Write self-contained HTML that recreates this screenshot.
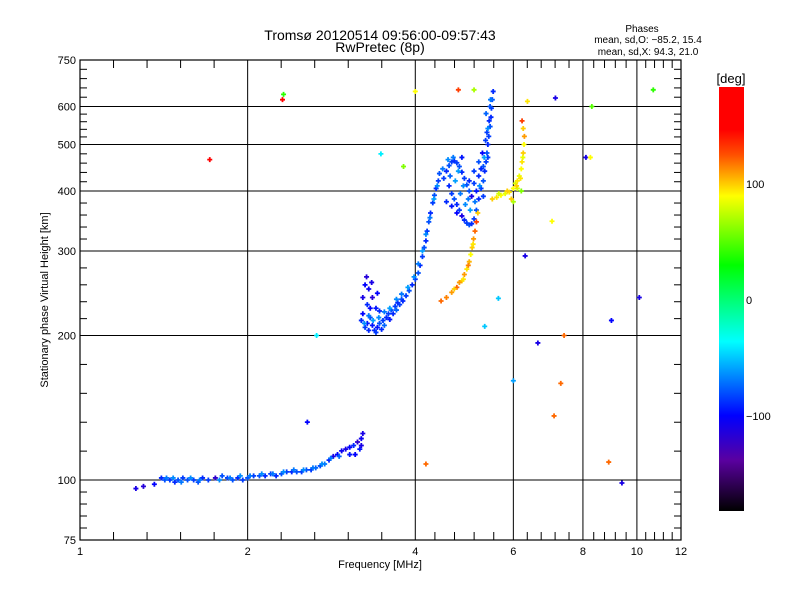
<!DOCTYPE html>
<html><head><meta charset="utf-8">
<style>
html,body{margin:0;padding:0;background:#fff;}
svg{display:block;font-family:"Liberation Sans",sans-serif;}
</style></head>
<body>
<svg id="chart" width="800" height="600" viewBox="0 0 800 600">
  <rect x="0" y="0" width="800" height="600" fill="#fff"/>
  <text x="380" y="40" font-size="14" text-anchor="middle">Tromsø 20120514 09:56:00-09:57:43</text>
  <text x="380" y="52" font-size="14" text-anchor="middle">RwPretec (8p)</text>
  <text x="642" y="32" font-size="10" text-anchor="middle">Phases</text>
  <text x="648" y="43" font-size="10" text-anchor="middle">mean, sd,O: −85.2, 15.4</text>
  <text x="648" y="55" font-size="10" text-anchor="middle">mean, sd,X:  94.3, 21.0</text>
  <g id="grid"></g>
  <g id="marks"></g>
  <g id="axes"></g>
  <text x="380" y="568" font-size="11" text-anchor="middle">Frequency [MHz]</text>
  <text transform="translate(48,300) rotate(-90)" font-size="11" text-anchor="middle">Stationary phase Virtual Height [km]</text>
  <defs>
    <linearGradient id="cbar" x1="0" y1="0" x2="0" y2="1">
      <stop offset="0" stop-color="#ff0000"/>
      <stop offset="0.1" stop-color="#ff0000"/>
      <stop offset="0.16" stop-color="#ff5000"/>
      <stop offset="0.257" stop-color="#ffff00"/>
      <stop offset="0.42" stop-color="#00ff00"/>
      <stop offset="0.6" stop-color="#00ffff"/>
      <stop offset="0.775" stop-color="#0000ff"/>
      <stop offset="0.88" stop-color="#5a00a0"/>
      <stop offset="1" stop-color="#000000"/>
    </linearGradient>
  </defs>
  <rect x="719" y="87" width="25" height="424" fill="url(#cbar)"/>
  <text x="731" y="83" font-size="13" text-anchor="middle">[deg]</text>
  <g id="cbticks"></g>
</svg>
<script>
// ---- data ----
const xTickValues = [1, 2, 4, 6, 8, 10, 12];
const yTickValues = [75, 100, 200, 300, 400, 500, 600, 750];
const xGridValues = [2, 4, 6, 8, 10];
const yGridValues = [100, 200, 300, 400, 500, 600];
const colorbarTicks = [100, 0, -100];
// [frequency MHz, height km, phase deg]
const eLayer = [[1.26,96,-110],[1.30,97,-115],[1.36,98,-100],[1.40,101,-90],[1.42,100,-80],[1.45,100,-85],[1.48,99,-90],[1.50,100,-80],[1.53,101,-85],[1.56,100,-80],[1.60,100,-85],[1.63,99,-80],[1.66,101,-90],[1.70,100,-85],[1.75,101,-120],[1.80,102,-80],[1.84,101,-85],[1.88,100,-80],[1.92,101,-90],[1.96,100,-85],[2.00,101,-80],[2.05,102,-85],[2.10,102,-80],[2.15,102,-90],[2.20,103,-85],[2.25,102,-90],[2.30,103,-80],[2.35,104,-85],[2.40,104,-90],[2.45,104,-80],[2.50,104,-85],[2.55,105,-80],[2.60,105,-85],[2.65,106,-75],[2.70,107,-80],[2.75,108,-70],[2.80,110,-90],[2.85,112,-110],[2.90,113,-100],[2.95,115,-105],[3.00,116,-110],[3.05,117,-100],[3.10,118,-90],[3.15,120,-120],[3.20,122,-105],[3.20,118,-110],[3.12,113,-100],[3.05,113,-95],
 [1.43,101,-70],[1.47,101,-65],[1.52,99,-70],[1.58,101,-65],[1.64,100,-70],[1.78,100,-65],[1.86,101,-70],[1.94,102,-65],[2.02,102,-70],[2.12,103,-65],[2.22,103,-70],[2.32,104,-65],[2.42,105,-70],[2.52,105,-65],[2.62,106,-70],[2.72,108,-65],[2.82,111,-70],[2.92,112,-75],[3.18,116,-95],[3.22,125,-110]];
const fOrdinary = [[3.20,215,-90],[3.22,222,-100],[3.25,208,-85],[3.28,212,-95],[3.30,205,-90],[3.32,218,-80],[3.35,210,-95],[3.38,205,-90],[3.40,203,-85],[3.42,208,-95],[3.45,212,-80],[3.48,206,-90],[3.50,215,-85],[3.52,210,-75],[3.55,218,-90],[3.58,222,-85],[3.60,216,-95],[3.62,226,-80],[3.65,222,-90],[3.68,230,-85],[3.70,226,-75],[3.72,234,-90],[3.75,232,-85],[3.78,238,-80],[3.80,236,-90],[3.85,242,-85],[3.90,248,-80],[3.95,255,-90],[4.00,262,-85],[4.05,270,-80],[4.08,280,-90],[4.12,292,-85],[4.15,305,-80],[4.18,315,-90],[4.20,330,-85],[4.23,345,-80],[4.26,360,-90],[4.30,378,-85],[4.33,392,-80],[4.36,405,-90],[4.40,420,-85],[4.42,435,-80],[3.22,240,-110],[3.25,255,-100],[3.30,250,-105],[3.28,232,-90],[3.35,240,-115],[3.40,228,-95],[3.32,228,-100],[3.45,225,-90],[4.50,425,-85],[4.55,440,-90],[4.60,452,-80],[4.65,460,-85],[4.70,462,-90],[4.75,458,-85],[4.80,450,-80],[4.85,438,-90],[4.90,425,-85],[4.95,412,-80],[4.60,410,-90],[4.65,395,-85],[4.70,385,-80],[4.75,375,-90],[4.80,365,-85],[4.85,355,-110],[4.90,348,-90],[4.95,343,-85],[5.00,340,-80],[5.05,342,-90],[5.10,350,-85],[5.15,365,-80],[5.20,385,-90],[5.25,405,-85],[5.30,420,-80],[5.33,440,-90],[5.36,460,-85],[5.38,480,-80],[5.40,500,-90],[5.42,520,-85],[5.45,545,-80],[5.47,570,-90],[5.48,595,-85],[5.50,620,-80],[5.52,645,-90],[5.40,470,-85],[5.30,450,-80],[5.20,430,-90],[5.10,415,-85],[5.00,400,-80],[5.25,445,-90],[5.35,510,-85],[5.45,600,-80],[5.43,560,-90],[5.38,530,-85],[5.00,420,-90],[5.10,440,-85],[5.20,460,-80]];
const fScatter = [[3.24,212,-65],[3.30,220,-70],[3.36,215,-60],[3.44,218,-65],[3.52,224,-70],[3.60,228,-60],[3.70,238,-65],[3.78,244,-70],[3.88,252,-60],[3.98,265,-65],[4.05,282,-70],[4.12,300,-60],[4.18,325,-65],[4.25,352,-70],[4.32,385,-60],[4.38,410,-65],[3.27,265,-115],[3.34,258,-110],[3.42,245,-100],[4.48,445,-70],[4.58,465,-65],[4.68,470,-70],[4.78,440,-60],[4.88,410,-65],[4.98,385,-70],[4.62,430,-75],[4.72,420,-60],[4.82,395,-70],[4.92,375,-65],[5.02,365,-60],[5.12,380,-70],[5.22,410,-65],[5.32,470,-60],[5.40,540,-65],[5.46,620,-70],[4.55,380,-90],[4.65,372,-95],[4.75,360,-100],[5.05,390,-110],[5.15,400,-95],[5.28,480,-100],[5.36,580,-75],[5.30,390,-85],[4.85,470,-95]];
const fExtraordinary = [[4.45,236,120],[4.55,240,115],[4.65,246,110],[4.75,252,120],[4.85,260,100],[4.90,268,110],[4.95,275,95],[5.00,285,105],[5.03,295,90],[5.06,305,100],[5.09,318,110],[5.12,330,120],[5.15,345,130],[5.18,360,100],[5.50,385,100],[5.60,388,95],[5.70,392,90],[5.80,395,85],[5.90,398,95],[6.00,405,90],[6.05,415,80],[6.10,420,95],[6.15,430,85],[6.20,445,90],[6.22,460,95],[6.25,480,100],[6.27,500,90],[6.28,520,110],[6.25,540,100],[6.22,560,130],[6.10,405,80],[6.20,400,60],[6.00,380,70],[5.95,385,100],
 [4.70,250,100],[4.80,258,110],[4.88,262,95],[4.98,280,115],[5.08,310,95],[5.65,395,80],[5.85,400,100],[6.08,410,100],[6.18,425,95],[6.24,470,85]];
const outliers = [[1.71,465,165],[2.32,636,40],[2.31,620,160],[4.00,645,90],[4.78,650,130],[5.10,650,70],[7.14,625,-110],[6.36,615,95],[8.30,600,50],[10.7,650,40],[3.47,478,-40],[3.81,450,60],[8.10,470,-110],[8.25,470,90],[7.04,346,90],[6.30,293,-110],[5.64,239,-50],[5.33,209,-50],[9.00,215,-100],[10.1,240,-110],[7.40,200,120],[6.64,193,-110],[6.00,161,-60],[7.30,159,120],[7.10,136,120],[8.90,109,120],[9.40,98.6,-110],[2.56,132,-100],[4.18,108,120],[2.66,200,-40]];

// ---- scales ----
const X0 = 80, X1 = 681, Y0 = 60, Y1 = 540;
function xs(f){ return X0 + (X1-X0) * Math.log(f) / Math.log(12); }
function ys(h){ return Y1 - (Y1-Y0) * Math.log(h/75) / Math.log(10); }
const NS = "http://www.w3.org/2000/svg";
function mk(tag, attrs, parent){ const e = document.createElementNS(NS, tag); for (const k in attrs) e.setAttribute(k, attrs[k]); parent.appendChild(e); return e; }
function phaseColor(p){
  const stops = [[-180,0,0,0],[-138,90,0,160],[-100,0,0,255],[-36,0,255,255],[30,0,255,0],[90,255,255,0],[125,255,80,0],[146,255,0,0],[180,255,0,0]];
  p = Math.max(-180, Math.min(180, p));
  for (let i=0;i<stops.length-1;i++){ const a=stops[i], b=stops[i+1];
    if (p>=a[0] && p<=b[0]) { const t=(p-a[0])/(b[0]-a[0]);
      return `rgb(${Math.round(a[1]+(b[1]-a[1])*t)},${Math.round(a[2]+(b[2]-a[2])*t)},${Math.round(a[3]+(b[3]-a[3])*t)})`; } }
  return "#000";
}

const grid = document.getElementById('grid');
xGridValues.forEach(v => {
  const l = mk('line', {x1: xs(v), x2: xs(v), y1: Y0, y2: Y1, stroke: '#000', 'stroke-width': 1}, grid);
  
  
});
yGridValues.forEach(v => {
  const l = mk('line', {x1: X0, x2: X1, y1: ys(v), y2: ys(v), stroke: '#000', 'stroke-width': 1}, grid);
  
  
});

const marks = document.getElementById('marks');
function drawSeries(arr, name){
  arr.forEach(d => {
    const x = xs(d[0]), y = ys(d[1]), c = phaseColor(d[2]);
    const p = mk('path', {d: `M${x-2.5},${y}H${x+2.5}M${x},${y-2.5}V${y+2.5}`, stroke: c, 'stroke-width': 1.8, fill: 'none'}, marks);
    
    
  });
}
drawSeries(eLayer, 'e-layer-point');
drawSeries(fOrdinary, 'f-ordinary-point');
drawSeries(fScatter, 'f-scatter-point');
drawSeries(fExtraordinary, 'f-extraordinary-point');
drawSeries(outliers, 'outlier-point');

const axes = document.getElementById('axes');
const frame = mk('rect', {x: X0, y: Y0, width: X1-X0, height: Y1-Y0, fill: 'none', stroke: '#000', 'stroke-width': 1.2}, axes);


for (let i=0;i<xTickValues.length;i++){
  const x = xs(xTickValues[i]);
  const t = mk('text', {x: x, y: 555, 'font-size': 11, 'text-anchor': 'middle'}, axes);
  t.textContent = xTickValues[i];
  
  
  if (i < xTickValues.length-1){
    const xn = xs(xTickValues[i+1]);
    for (let k=1;k<5;k++){ const xx = x + (xn-x)*k/5;
      mk('line', {x1: xx, x2: xx, y1: Y1, y2: Y1-8, stroke: '#000'}, axes);
      mk('line', {x1: xx, x2: xx, y1: Y0, y2: Y0+8, stroke: '#000'}, axes); }
  }
}
for (let i=0;i<yTickValues.length;i++){
  const y = ys(yTickValues[i]);
  const t = mk('text', {x: 76, y: y+4, 'font-size': 11, 'text-anchor': 'end'}, axes);
  t.textContent = yTickValues[i];
  
  
  if (i < yTickValues.length-1){
    const yn = ys(yTickValues[i+1]);
    for (let k=1;k<5;k++){ const yy = y + (yn-y)*k/5;
      mk('line', {x1: X0, x2: X0+7, y1: yy, y2: yy, stroke: '#000'}, axes);
      mk('line', {x1: X1, x2: X1-7, y1: yy, y2: yy, stroke: '#000'}, axes); }
  }
}
const cb = document.getElementById('cbticks');
colorbarTicks.forEach(v => {
  const y = 300 - v*1.16;
  const t = mk('text', {x: 746, y: y+4, 'font-size': 11}, cb);
  t.textContent = v === -100 ? '−100' : String(v);
  
  
});
</script>
</body></html>
